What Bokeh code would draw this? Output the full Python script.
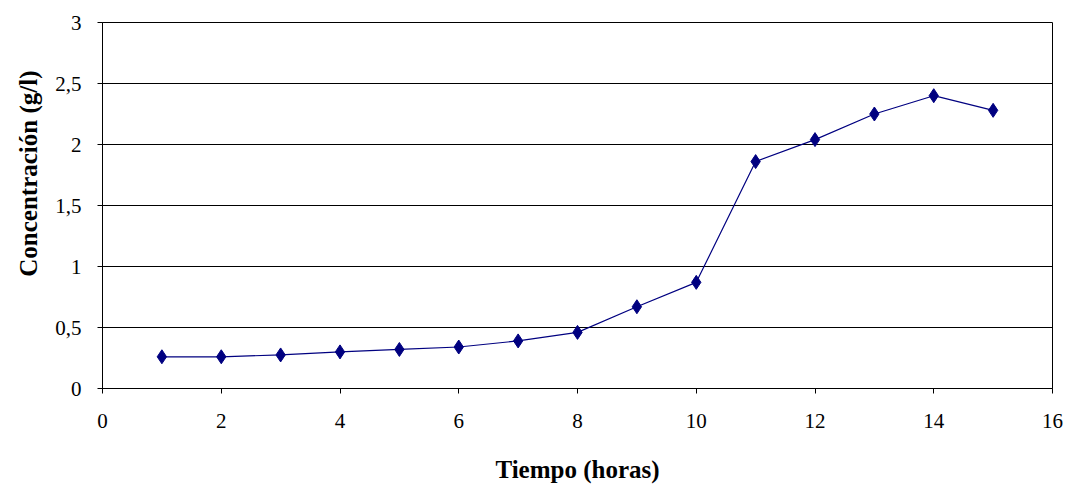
from bokeh.plotting import figure
from bokeh.embed import file_html
from bokeh.resources import INLINE
from bokeh.models import CustomJSTickFormatter, FixedTicker, Range1d, Title

hours = [1, 2, 3, 4, 5, 6, 7, 8, 9, 10, 11, 12, 13, 14, 15]
conc = [0.26, 0.26, 0.275, 0.30, 0.32, 0.34, 0.39, 0.46, 0.67, 0.87, 1.86, 2.04, 2.25, 2.40, 2.28]
x_ticks = [0, 2, 4, 6, 8, 10, 12, 14, 16]
y_ticks = [0, 0.5, 1, 1.5, 2, 2.5, 3]

p = figure(width=1067, height=486, output_backend="svg", toolbar_location=None,
           x_range=Range1d(0, 16), y_range=Range1d(0, 3),
           min_border_left=102, min_border_right=15, min_border_top=22, min_border_bottom=98)
p.background_fill_color = "white"
p.border_fill_color = "white"
p.outline_line_color = "black"
p.outline_line_width = 1

p.line(hours, conc, line_color="#000080", line_width=1.2)
p.scatter(hours, conc, marker="diamond", size=14, fill_color="#000080", line_color="#000080")

font = "Liberation Serif"
p.xaxis.ticker = FixedTicker(ticks=x_ticks)
p.yaxis.ticker = FixedTicker(ticks=y_ticks)
p.yaxis.formatter = CustomJSTickFormatter(code="return tick.toString().replace('.', ',');")
for ax in (p.xaxis[0], p.yaxis[0]):
    ax.axis_line_color = "black"
    ax.major_tick_line_color = "black"
    ax.major_tick_in = 0
    ax.major_tick_out = 5
    ax.minor_tick_line_color = None
    ax.major_label_text_font = font
    ax.major_label_text_font_size = "21px"
    ax.major_label_text_color = "black"
    ax.axis_label_text_font = font
    ax.axis_label_text_font_style = "bold"
    ax.axis_label_text_color = "black"
p.xaxis.axis_label_text_font_size = "25px"
p.xaxis.major_label_standoff = 20
p.yaxis.major_label_standoff = 16
p.xaxis.axis_label = "Tiempo (horas)"
p.xaxis.axis_label_standoff = 25

ytitle = Title(text="Concentración (g/l)", align="right", offset=48,
               text_font=font, text_font_size="25px", text_font_style="bold",
               text_color="black", standoff=21)
p.add_layout(ytitle, "left")

p.xgrid.grid_line_color = None
p.ygrid.grid_line_color = "black"
p.ygrid.grid_line_width = 1

open("out.html", "w").write(file_html(p, INLINE))
